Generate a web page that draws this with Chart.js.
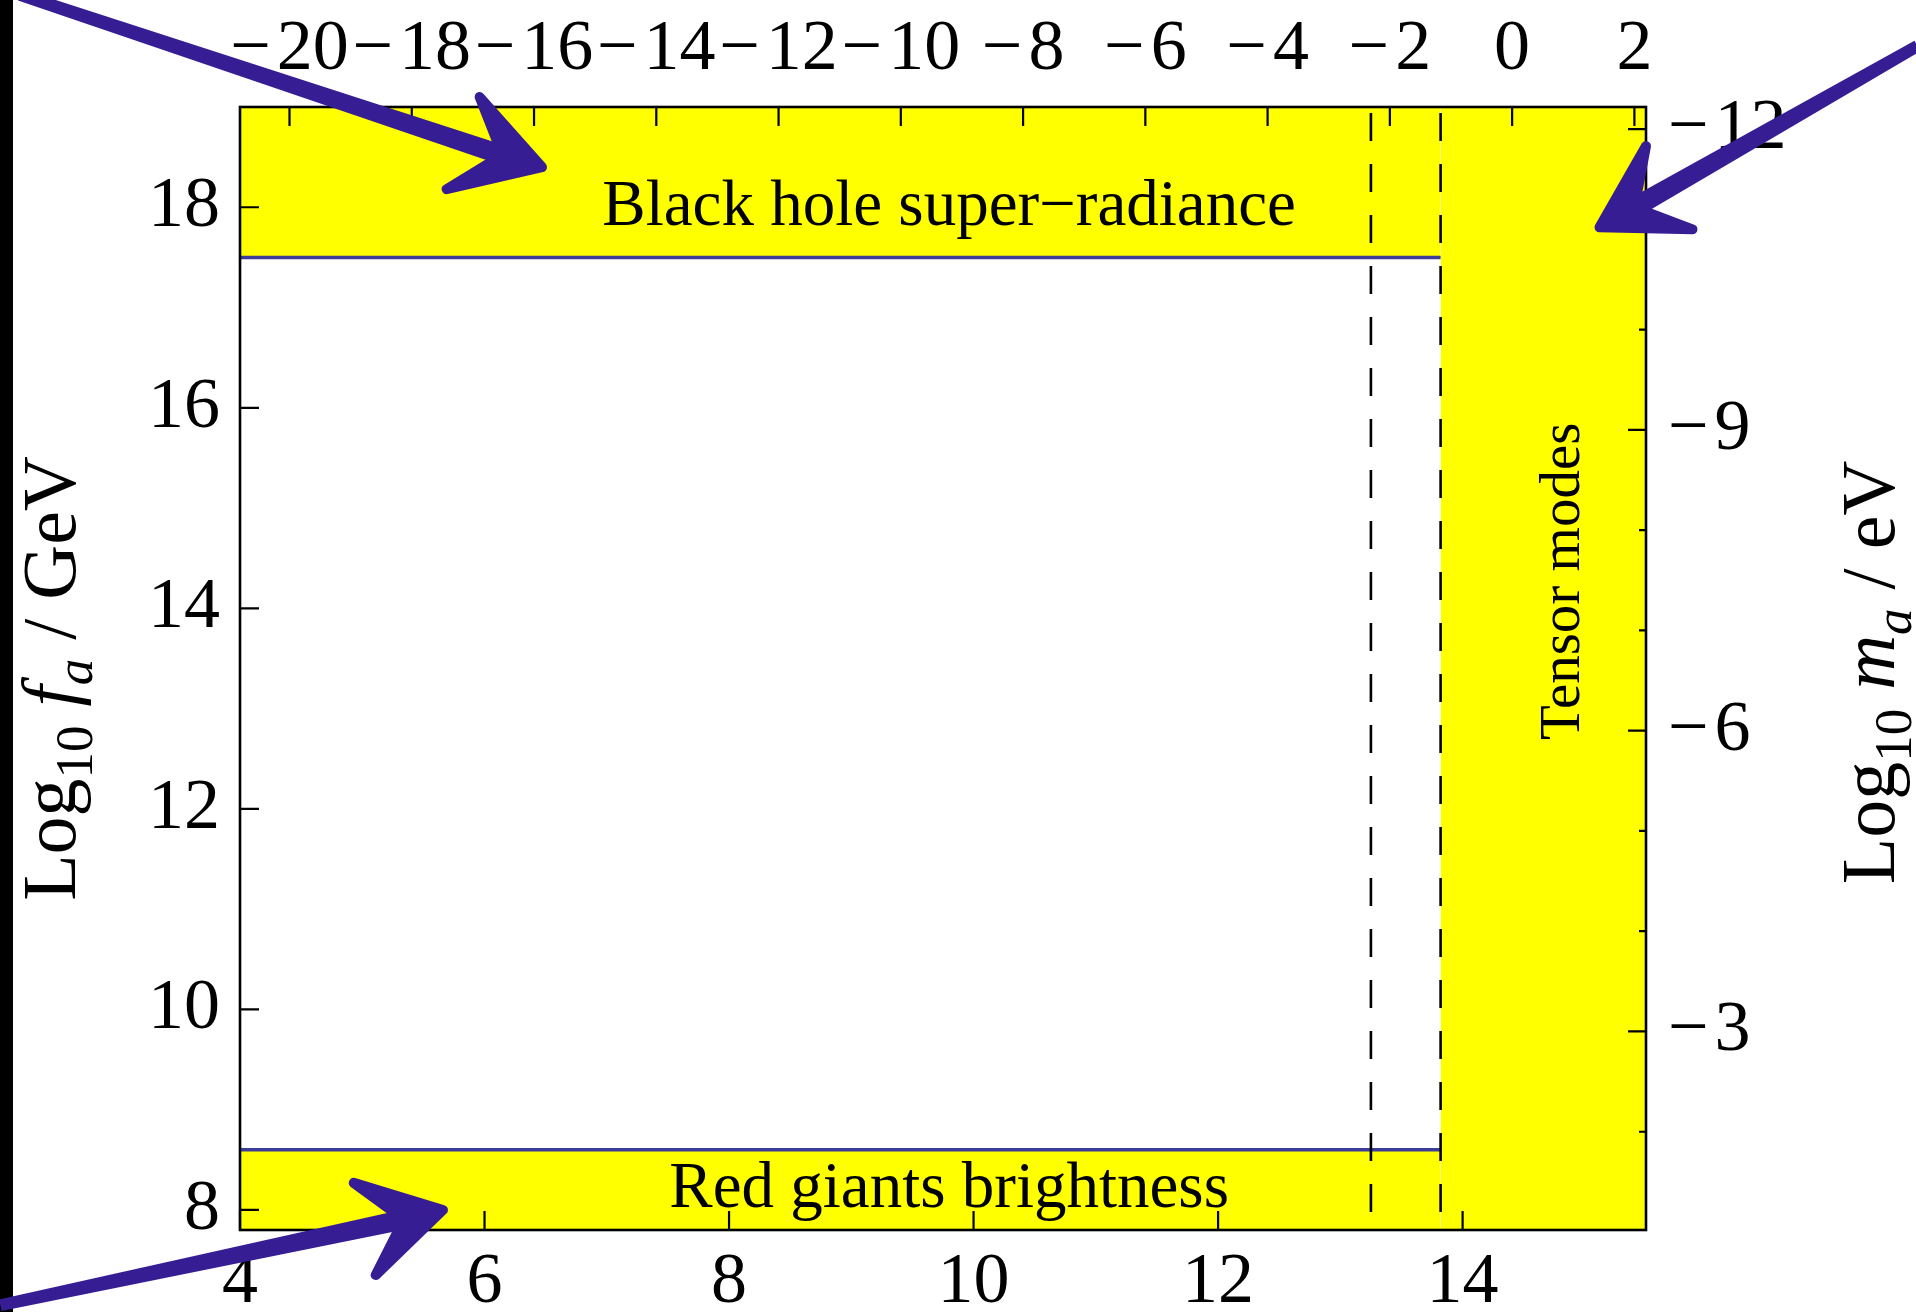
<!DOCTYPE html>
<html>
<head>
<meta charset="utf-8">
<script src="https://cdn.jsdelivr.net/npm/chart.js@4.4.1/dist/chart.umd.min.js"></script>
<style>
  html, body { margin: 0; padding: 0; background: #fff; }
  canvas { display: block; }
</style>
</head>
<body>
<canvas id="axionPlot" width="1916" height="1312"></canvas>
<script>
// bottom axis: Log10 H_I / GeV, left axis: Log10 f_a / GeV
const hRange = [4, 15.5];
const faRange = [7.8, 19];
const hTicks = [4, 6, 8, 10, 12, 14];
const faTicks = [8, 10, 12, 14, 16, 18];

// top axis: Log10 r  (r = 2 log H - 28.81), right axis: Log10 m_a / eV (6.78 - log f_a)
const rTicks = [-20, -18, -16, -14, -12, -10, -8, -6, -4, -2, 0, 2];
const maTicks = [-12, -11, -10, -9, -8, -7, -6, -5, -4, -3, -2];
const maLabels = [-12, -9, -6, -3];

// excluded regions
const superradianceFa = 17.5;
const redGiantFa = 8.6;
const tensorH = 13.82;
const dashedH = [13.25, 13.82];

const toR = h => 2 * h - 28.81;
const toMa = fa => 6.78 - fa;

const YELLOW = '#ffff00';
const BLUE = '#3d3d99';
const CRAYON = '#371d93';
const SERIF = "'Liberation Serif', 'Times New Roman', serif";
const tickFont = { family: SERIF, size: 72 };

const fmt = v => v < 0 ? '\u2212\u200a' + Math.abs(v) : String(v);

const regionLabels = [
  { text: 'Black hole super\u2212radiance', x: 9.8, y: 17.82, size: 65, rot: 0 },
  { text: 'Red giants brightness', x: 9.8, y: 8.03, size: 65, rot: 0 },
  { text: 'Tensor modes', x: 14.95, y: 14.27, size: 57, rot: -Math.PI / 2 }
];

// hand drawn arrows, in (log H, log f_a) units
const arrows = [
  { from: [2.20, 20.12], tip: [6.47, 18.40], barbs: [[5.96, 19.10], [5.69, 18.18]] },
  { from: [17.72, 19.61], tip: [15.12, 17.80], barbs: [[15.50, 18.61], [15.88, 17.78]] },
  { from: [2.04, 7.05], tip: [5.66, 8.0], barbs: [[4.93, 8.27], [5.11, 7.35]] }
];

function vline(x) {
  return {
    data: [{ x: x, y: faRange[1] }, { x: x, y: faRange[0] }],
    borderColor: '#000', borderWidth: 2.6, borderDash: [28, 23], borderDashOffset: -6,
    pointRadius: 0, fill: false
  };
}

const datasets = [
  vline(dashedH[0]),
  vline(dashedH[1]),
  {
    data: [{ x: hRange[0], y: superradianceFa }, { x: tensorH, y: superradianceFa }],
    borderColor: BLUE, borderWidth: 3.5, pointRadius: 0,
    fill: 'end', backgroundColor: YELLOW
  },
  {
    data: [{ x: hRange[0], y: redGiantFa }, { x: tensorH, y: redGiantFa }],
    borderColor: BLUE, borderWidth: 3.5, pointRadius: 0,
    fill: 'start', backgroundColor: YELLOW
  },
  {
    data: [{ x: tensorH, y: faRange[1] }, { x: hRange[1], y: faRange[1] }],
    borderColor: 'rgba(0,0,0,0)', borderWidth: 0, pointRadius: 0,
    fill: 'start', backgroundColor: YELLOW
  }
];

function drawRotatedParts(ctx, x, y, parts) {
  let total = 0;
  parts.forEach(p => { ctx.font = p.style + ' ' + p.size + 'px ' + SERIF; p.w = ctx.measureText(p.t).width; total += p.w; });
  ctx.save();
  ctx.translate(x, y);
  ctx.rotate(-Math.PI / 2);
  ctx.fillStyle = '#000';
  ctx.textBaseline = 'alphabetic';
  ctx.textAlign = 'left';
  let cx = -total / 2;
  parts.forEach(p => {
    ctx.font = p.style + ' ' + p.size + 'px ' + SERIF;
    ctx.fillText(p.t, cx, p.dy || 0);
    cx += p.w;
  });
  ctx.restore();
}

function titleParts(sym, unit) {
  return [
    { t: 'Log', style: 'normal', size: 76 },
    { t: '10', style: 'normal', size: 53, dy: 17 },
    { t: ' ', style: 'normal', size: 76 },
    { t: sym, style: 'italic', size: 76 },
    { t: 'a', style: 'italic', size: 53, dy: 17 },
    { t: ' / ' + unit, style: 'normal', size: 76 }
  ];
}

function drawArrow(ctx, s, t, b1, b2) {
  const m = [(b1[0] + b2[0]) / 2, (b1[1] + b2[1]) / 2];
  const n = [t[0] + 0.5 * (m[0] - t[0]), t[1] + 0.5 * (m[1] - t[1])];
  // tapered shaft
  const dx = n[0] - s[0], dy = n[1] - s[1];
  const len = Math.hypot(dx, dy);
  const ux = -dy / len, uy = dx / len;
  const w0 = 6, w1 = 10;
  ctx.beginPath();
  ctx.moveTo(s[0] + ux * w0, s[1] + uy * w0);
  ctx.lineTo(n[0] + ux * w1, n[1] + uy * w1);
  ctx.lineTo(n[0] - ux * w1, n[1] - uy * w1);
  ctx.lineTo(s[0] - ux * w0, s[1] - uy * w0);
  ctx.closePath();
  ctx.fill();
  // head
  ctx.lineWidth = 10;
  ctx.beginPath();
  ctx.moveTo(b1[0], b1[1]);
  ctx.lineTo(t[0], t[1]);
  ctx.lineTo(b2[0], b2[1]);
  ctx.lineTo(n[0], n[1]);
  ctx.closePath();
  ctx.fill();
  ctx.stroke();
}

const decorations = {
  id: 'decorations',
  beforeDraw(chart) {
    const ctx = chart.ctx;
    ctx.save();
    ctx.fillStyle = '#000';
    ctx.fillRect(0, 0, 13, chart.height);
    ctx.restore();
  },
  afterDatasetsDraw(chart) {
    const { ctx, chartArea: a, scales } = chart;
    ctx.save();
    // region labels
    ctx.fillStyle = '#000';
    regionLabels.forEach(l => {
      ctx.save();
      ctx.translate(scales.x.getPixelForValue(l.x), scales.y.getPixelForValue(l.y));
      ctx.rotate(l.rot);
      ctx.font = l.size + 'px ' + SERIF;
      ctx.textAlign = 'center';
      ctx.textBaseline = 'alphabetic';
      ctx.fillText(l.text, 0, 0);
      ctx.restore();
    });
    // frame and inward ticks
    ctx.strokeStyle = '#000';
    ctx.lineWidth = 2.6;
    ctx.strokeRect(a.left, a.top, a.right - a.left, a.bottom - a.top);
    ctx.lineWidth = 2.2;
    ctx.beginPath();
    hTicks.forEach(v => {
      const px = scales.x.getPixelForValue(v);
      ctx.moveTo(px, a.bottom); ctx.lineTo(px, a.bottom - 19);
    });
    rTicks.forEach(v => {
      const px = scales.x2.getPixelForValue(v);
      ctx.moveTo(px, a.top); ctx.lineTo(px, a.top + 19);
    });
    faTicks.forEach(v => {
      const py = scales.y.getPixelForValue(v);
      ctx.moveTo(a.left, py); ctx.lineTo(a.left + 19, py);
    });
    maTicks.forEach(v => {
      const py = scales.y2.getPixelForValue(v);
      const len = maLabels.includes(v) ? 18 : 7;
      ctx.moveTo(a.right, py); ctx.lineTo(a.right - len, py);
    });
    ctx.stroke();
    ctx.restore();
  },
  afterDraw(chart) {
    const { ctx, chartArea: a, scales } = chart;
    const mid = (a.top + a.bottom) / 2;
    drawRotatedParts(ctx, 75, mid + 10, titleParts('f', 'GeV'));
    drawRotatedParts(ctx, 1894, mid + 4, titleParts('m', 'eV'));

    const P = p => [scales.x.getPixelForValue(p[0]), scales.y.getPixelForValue(p[1])];
    ctx.save();
    ctx.strokeStyle = CRAYON;
    ctx.fillStyle = CRAYON;
    ctx.lineCap = 'round';
    ctx.lineJoin = 'round';
    arrows.forEach(ar => drawArrow(ctx, P(ar.from), P(ar.tip), P(ar.barbs[0]), P(ar.barbs[1])));
    ctx.restore();
  }
};

const hidden = { display: false, drawTicks: false };
const noBorder = { display: false };

new Chart(document.getElementById('axionPlot'), {
  type: 'line',
  data: { datasets: datasets },
  options: {
    responsive: false,
    animation: false,
    layout: { padding: 0 },
    plugins: { legend: { display: false }, tooltip: { enabled: false } },
    scales: {
      x: {
        type: 'linear', position: 'bottom', min: hRange[0], max: hRange[1],
        grid: hidden, border: noBorder,
        afterBuildTicks: s => { s.ticks = hTicks.map(v => ({ value: v })); },
        afterFit: s => { s.height = 82; },
        ticks: { font: tickFont, color: '#000', padding: 10, maxRotation: 0, minRotation: 0, autoSkip: false, callback: fmt }
      },
      x2: {
        type: 'linear', position: 'top', min: toR(hRange[0]), max: toR(hRange[1]),
        grid: hidden, border: noBorder,
        afterBuildTicks: s => { s.ticks = rTicks.map(v => ({ value: v })); },
        afterFit: s => { s.height = 107; },
        ticks: { font: tickFont, color: '#000', padding: 14, maxRotation: 0, minRotation: 0, autoSkip: false, callback: fmt }
      },
      y: {
        type: 'linear', position: 'left', min: faRange[0], max: faRange[1],
        grid: hidden, border: noBorder,
        afterBuildTicks: s => { s.ticks = faTicks.map(v => ({ value: v })); },
        afterFit: s => { s.width = 240; },
        ticks: { font: tickFont, color: '#000', padding: 20, autoSkip: false, callback: fmt }
      },
      y2: {
        type: 'linear', position: 'right', reverse: true,
        min: toMa(faRange[1]), max: toMa(faRange[0]),
        grid: hidden, border: noBorder,
        afterBuildTicks: s => { s.ticks = maTicks.map(v => ({ value: v })); },
        afterFit: s => { s.width = 270; },
        ticks: { font: tickFont, color: '#000', padding: 22, autoSkip: false,
          callback: v => maLabels.includes(v) ? fmt(v) : '' }
      }
    }
  },
  plugins: [decorations]
});
</script>
</body>
</html>
